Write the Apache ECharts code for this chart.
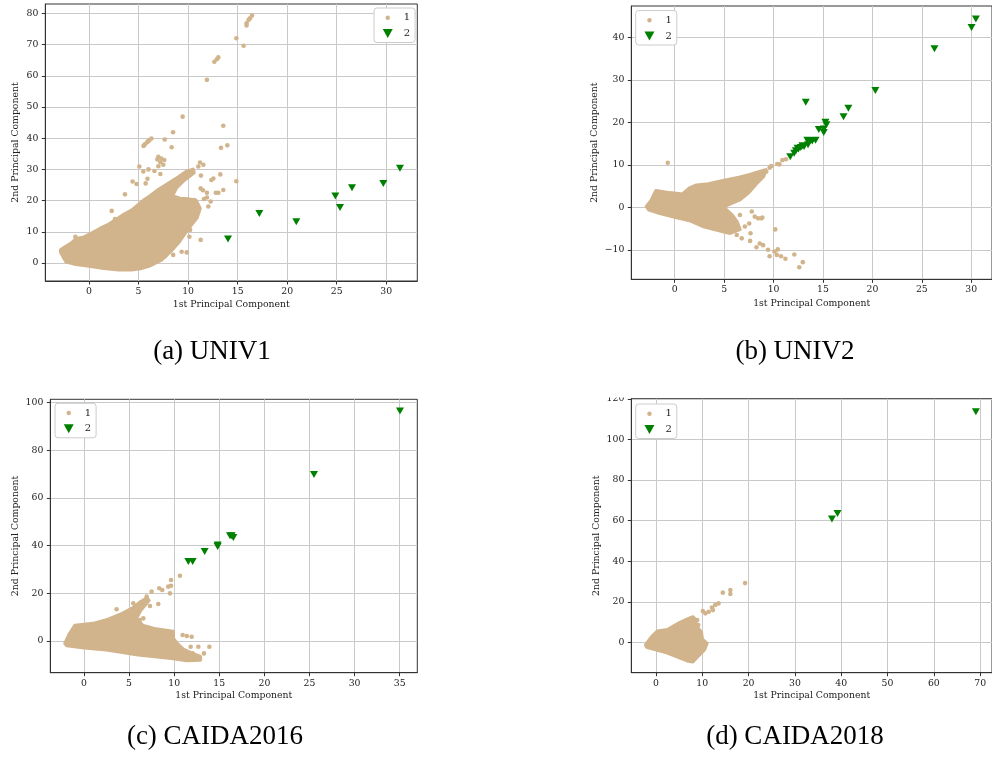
<!DOCTYPE html>
<html>
<head>
<meta charset="utf-8">
<script src="https://cdn.jsdelivr.net/npm/echarts@6/dist/echarts.min.js"></script>
<style>
html,body{margin:0;padding:0;background:#fff;}
#main{width:992px;height:763px;}
</style>
</head>
<body>
<div id="main"></div>
<script>
// ---------------- DATA ----------------
// (a) UNIV1
const univ1Cluster = [[-2.85,4.2],[-2.5,5.0],[-1.8,6.3],[-1.3,7.8],[-0.5,8.3],[0.3,9.6],[1.1,11.0],[2.0,12.4],[2.8,14.0],[3.6,15.7],[4.3,16.9],[5.0,18.7],[5.6,20.3],[6.2,21.6],[7.0,23.5],[8.0,25.5],[9.0,27.5],[9.8,29.3],[10.5,30.0],[10.6,29.0],[9.6,26.5],[8.8,24.0],[8.4,21.5],[9.2,20.7],[10.0,20.5],[10.8,20.0],[11.2,17.5],[10.9,14.5],[10.4,12.5],[9.8,10.0],[9.1,6.8],[8.2,3.6],[7.3,1.0],[6.2,-0.8],[5.2,-1.8],[4.3,-2.2],[3.0,-2.2],[1.5,-1.7],[0.0,-1.0],[-1.5,-0.3],[-2.3,0.4],[-2.6,2.0],[-2.85,3.5]];
const univ1Points = [[16.45,79.3],[16.25,78.4],[16.1,77.9],[15.9,76.8],[15.9,76.1],[14.87,72.0],[15.6,69.6],[13.05,65.9],[12.9,65.3],[12.65,64.5],[11.9,58.7],[9.45,46.9],[13.55,44.0],[8.48,41.9],[7.64,39.6],[13.96,37.7],[13.32,36.9],[8.34,37.1],[14.87,26.2],[11.2,32.2],[11.54,31.5],[11.03,30.9],[13.25,28.4],[12.55,27.1],[12.35,26.6],[11.3,28.0],[3.63,22.0],[5.08,30.9],[5.48,29.3],[5.72,25.5],[4.4,26.1],[4.8,25.3],[2.29,16.7],[2.62,14.1],[1.78,11.6],[0.67,9.5],[-0.57,6.7],[-1.38,8.4],[11.27,23.9],[11.5,23.3],[11.9,22.5],[12.8,22.5],[13.05,22.5],[13.55,23.4],[12.28,19.7],[12.04,18.1],[11.27,7.4],[10.2,10.6],[10.13,8.4],[9.86,3.4],[9.35,3.6],[8.5,2.6],[7.67,2.2],[7.16,2.0],[6.5,0.7],[10.6,20.2],[10.86,18.1],[5.5,37.5],[5.7,38.2],[5.9,38.8],[6.1,39.4],[6.3,39.9],[5.6,37.9],[6.0,39.1],[7.0,34.0],[7.3,33.5],[7.6,33.0],[7.2,32.3],[6.9,33.2],[7.5,31.5],[7.0,31.0],[6.0,30.0],[6.6,29.5],[7.2,28.5],[5.9,27.0],[11.6,20.5],[11.9,21.0],[10.2,17.0]];
const univ1Anomalies = [[14.03,7.7],[17.19,15.9],[20.92,13.2],[24.86,21.5],[25.33,17.8],[26.54,24.1],[29.7,25.5],[31.38,30.4]];
const univ1XTicks = [0,5,10,15,20,25,30];
const univ1YTicks = [0,10,20,30,40,50,60,70,80];

// (b) UNIV2
const univ2Cluster = [[-2.85,0.2],[-2.4,1.5],[-1.9,3.9],[-0.5,3.4],[0.8,3.1],[1.5,4.5],[2.2,5.2],[3.4,5.5],[5.0,6.3],[6.5,7.0],[7.5,7.6],[8.5,8.3],[9.2,8.8],[9.0,7.3],[8.2,5.4],[7.5,3.5],[6.6,1.8],[5.6,0.8],[4.9,0.1],[5.8,-1.8],[6.3,-3.4],[6.6,-5.2],[5.6,-6.1],[4.2,-5.3],[3.0,-4.6],[1.5,-3.1],[0.0,-2.3],[-1.5,-1.4],[-2.6,-0.6]];
const univ2Points = [[-0.7,10.5],[9.77,9.7],[10.37,10.2],[10.6,10.1],[10.9,11.1],[11.26,11.3],[9.27,8.4],[8.94,7.8],[8.44,6.8],[8.87,-2.4],[8.44,-2.6],[8.1,-2.2],[7.54,-3.8],[7.1,-4.5],[7.67,-6.1],[7.63,-7.9],[6.78,-7.3],[6.28,-6.5],[8.6,-8.5],[8.94,-8.9],[8.27,-9.4],[9.44,-10.0],[10.17,-5.2],[10.1,-10.4],[9.6,-11.5],[10.33,-11.2],[10.76,-11.5],[11.2,-12.1],[12.1,-11.1],[12.96,-12.9],[12.6,-14.1],[10.43,-9.9],[5.95,-5.2],[6.6,-1.8],[7.8,-1.0],[8.77,-2.6],[9.6,9.3]];
const univ2Anomalies = [[30.47,44.3],[30.03,42.3],[26.28,37.3],[20.3,27.5],[13.26,24.7],[17.57,23.3],[17.08,21.3],[15.25,20.0],[15.35,19.4],[15.08,18.4],[15.08,17.6],[14.58,18.3],[14.25,15.8],[13.75,15.7],[13.42,15.8],[13.49,14.7],[13.09,14.3],[12.76,14.1],[12.43,13.9],[12.26,13.3],[12.09,12.7],[11.69,11.9],[12.52,13.7],[12.92,14.5],[13.92,15.6]];
const univ2XTicks = [0,5,10,15,20,25,30];
const univ2YTicks = [-10,0,10,20,30,40];

// (c) CAIDA2016
const caida2016Cluster = [[-2.1,-1.0],[-1.6,3.0],[-1.0,6.5],[1.0,7.3],[2.5,8.8],[4.3,11.6],[5.5,14.0],[6.3,16.5],[7.0,18.0],[7.2,17.0],[6.3,13.0],[5.8,9.5],[6.5,6.5],[8.0,5.0],[9.9,4.0],[9.9,1.0],[10.3,-1.0],[11.0,-3.5],[12.0,-5.2],[12.9,-6.6],[12.9,-8.0],[11.4,-8.2],[9.9,-7.3],[6.0,-5.8],[2.5,-3.7],[0.0,-2.8],[-1.9,-1.9]];
const caida2016Points = [[10.64,27.4],[9.65,25.6],[9.65,23.2],[9.35,22.8],[9.53,20.0],[8.35,22.1],[8.68,21.4],[8.24,15.5],[7.32,14.7],[6.58,9.5],[6.2,8.8],[3.62,13.3],[11.94,1.8],[10.94,2.5],[11.4,2.1],[12.68,-2.4],[13.9,-2.4],[13.3,-5.2],[11.83,-2.4],[12.05,-5.2],[6.95,18.6],[7.5,20.7],[5.47,15.8]];
const caida2016Anomalies = [[35.03,96.5],[25.5,69.9],[16.37,44.2],[16.19,44.2],[16.56,43.4],[14.82,39.6],[14.82,40.3],[13.38,37.5],[11.57,33.3],[12.05,33.3]];
const caida2016XTicks = [0,5,10,15,20,25,30,35];
const caida2016YTicks = [0,20,40,60,80,100];

// (d) CAIDA2018
const caida2018Cluster = [[-2.2,-1.3],[-1.0,2.5],[0.3,5.5],[2.5,6.2],[5.0,9.5],[6.8,11.5],[8.0,12.5],[8.6,11.0],[8.6,8.5],[9.8,5.0],[10.0,1.5],[11.0,-0.5],[10.5,-3.5],[9.0,-7.0],[8.0,-9.5],[7.0,-9.2],[2.5,-5.2],[-2.0,-2.3]];
const caida2018Points = [[19.25,29.2],[14.44,24.5],[16.07,25.8],[16.07,23.8],[13.52,19.2],[12.8,18.4],[12.1,17.2],[12.3,15.9],[10.69,14.3],[10.12,15.4],[11.4,15.1],[8.92,11.0],[8.42,9.4],[9.13,8.5]];
const caida2018Anomalies = [[69.07,113.6],[39.2,63.5],[38.0,60.8]];
const caida2018XTicks = [0,10,20,30,40,50,60,70];
const caida2018YTicks = [0,20,40,60,80,100,120];

const captions = ['(a) UNIV1','(b) UNIV2','(c) CAIDA2016','(d) CAIDA2018'];
const seriesNames = ['1','2'];
const xAxisTitle = '1st Principal Component';
const yAxisTitle = '2nd Principal Component';

// ---------------- LAYOUT / STYLE ----------------
const TAN = '#D2B48C', GREEN = '#008000';
const FONT = 'DejaVu Serif';
const DOWN_TRIANGLE = 'path://M0,0 L10,0 L5,9 Z';
const panels = [
  {cluster:univ1Cluster, pts:univ1Points, anom:univ1Anomalies, xt:univ1XTicks, yt:univ1YTicks,
   grid:{left:45.3, top:4, width:372, height:277}, x:[-4.41,33.13], y:[-5.77,83.0],
   xGap:19.5, yGap:25, legend:{left:374, top:8}, cap:[212,352]},
  {cluster:univ2Cluster, pts:univ2Points, anom:univ2Anomalies, xt:univ2XTicks, yt:univ2YTicks,
   grid:{left:631.3, top:6, width:366, height:273.3}, x:[-4.39,32.1], y:[-16.94,47.37],
   xGap:19.5, yGap:32, legend:{left:635.7, top:10.5}, cap:[795,352]},
  {cluster:caida2016Cluster, pts:caida2016Points, anom:caida2016Anomalies, xt:caida2016XTicks, yt:caida2016YTicks,
   grid:{left:50.3, top:399.3, width:367, height:273.4}, x:[-3.73,36.95], y:[-13.3,101.4],
   xGap:18.5, yGap:30, legend:{left:55, top:403.3}, cap:[215,737]},
  {cluster:caida2018Cluster, pts:caida2018Points, anom:caida2018Anomalies, xt:caida2018XTicks, yt:caida2018YTicks,
   grid:{left:631.3, top:398.7, width:366.7, height:274}, x:[-5.31,72.55], y:[-14.94,120.05],
   xGap:18.5, yGap:30, legend:{left:635.7, top:404}, cap:[795,737]}
];

const fmt = v => String(v).replace('-', '\u2212');
const grid = [], xAxis = [], yAxis = [], series = [], legend = [], graphic = [];

panels.forEach((p, i) => {
  grid.push(Object.assign({show:true, borderColor:'#333', borderWidth:1, backgroundColor:'#fff', containLabel:false}, p.grid));
  const common = {
    gridIndex:i, type:'value', nameLocation:'middle',
    nameTextStyle:{fontFamily:FONT, fontSize:9.3, color:'#222'},
    axisLine:{show:true, onZero:false, lineStyle:{color:'#333', width:1}},
    splitLine:{show:true, lineStyle:{color:'#c9c9c9', width:1}}
  };
  xAxis.push(Object.assign({}, common, {
    name:xAxisTitle, nameGap:p.xGap, min:p.x[0], max:p.x[1],
    axisTick:{show:true, inside:false, length:3.5, lineStyle:{color:'#333'}, customValues:p.xt},
    axisLabel:{customValues:p.xt, formatter:fmt, margin:6, fontFamily:FONT, fontSize:9.3, color:'#222'}
  }));
  yAxis.push(Object.assign({}, common, {
    name:yAxisTitle, nameGap:p.yGap, min:p.y[0], max:p.y[1],
    axisTick:{show:true, inside:false, length:3.5, lineStyle:{color:'#333'}, customValues:p.yt},
    axisLabel:{customValues:p.yt, formatter:fmt, margin:7, fontFamily:FONT, fontSize:9.3, color:'#222'}
  }));
  series.push({
    name:seriesNames[0], type:'scatter', xAxisIndex:i, yAxisIndex:i, data:p.pts,
    symbol:'circle', symbolSize:4.6, itemStyle:{color:TAN, opacity:1}, z:3, silent:true
  });
  const poly = p.cluster;
  series.push({
    name:seriesNames[0], type:'custom', xAxisIndex:i, yAxisIndex:i, data:poly, z:2, silent:true,
    itemStyle:{color:TAN},
    renderItem:(params, api) => {
      if (params.dataIndex !== 0) return null;
      return {type:'polygon', shape:{points: poly.map(pt => api.coord(pt))},
              style:{fill:TAN, stroke:TAN, lineWidth:3.5, lineJoin:'round'}};
    }
  });
  series.push({
    name:seriesNames[1], type:'scatter', xAxisIndex:i, yAxisIndex:i, data:p.anom,
    symbol:'triangle', symbolRotate:180, symbolSize:[8,7], itemStyle:{color:GREEN, opacity:1}, z:4, silent:true
  });
  legend.push({
    orient:'vertical', left:p.legend.left, top:p.legend.top,
    padding:[3,5,3,7], itemGap:3, itemWidth:12, itemHeight:9,
    backgroundColor:'#fff', borderColor:'#ccc', borderWidth:1, borderRadius:3,
    textStyle:{fontFamily:FONT, fontSize:10, color:'#222', padding:[0,0,0,5], lineHeight:12},
    selectedMode:false,
    data:[
      {name:seriesNames[0], icon:'circle', itemStyle:{color:TAN, borderColor:'#fff', borderWidth:4.5}},
      {name:seriesNames[1], icon:DOWN_TRIANGLE, itemStyle:{color:GREEN}}
    ]
  });
  graphic.push({type:'text', x:p.cap[0], y:p.cap[1], z:50,
    style:{text:captions[i], fill:'#000', font:'27px "Liberation Serif"', textAlign:'center', textVerticalAlign:'middle'}});
});
// cropped top of the "120" label in the original figure
graphic.push({type:'rect', shape:{x:585, y:380, width:44, height:17.5}, style:{fill:'#fff'}, z:100});

const chart = echarts.init(document.getElementById('main'), null, {renderer:'canvas'});
chart.setOption({animation:false, backgroundColor:'#fff', grid, xAxis, yAxis, series, legend, graphic});
</script>
</body>
</html>
